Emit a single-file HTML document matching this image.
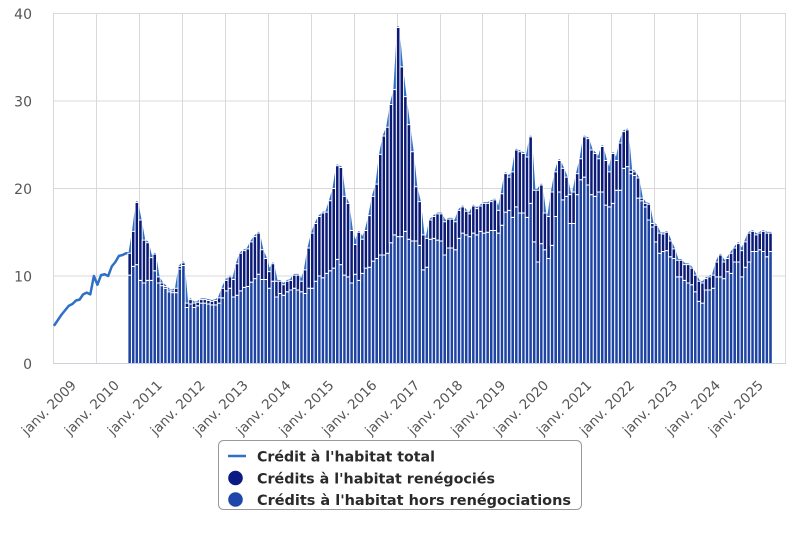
<!DOCTYPE html>
<html>
<head>
<meta charset="utf-8">
<style>
html,body{margin:0;padding:0;background:#fff;}
svg{display:block;}
.bars rect{stroke:#fff;stroke-width:1px;vector-effect:non-scaling-stroke;}
.ln{fill:none;stroke:#2f6fc6;stroke-width:2.5px;stroke-linejoin:round;stroke-linecap:round;vector-effect:non-scaling-stroke;}
.yl{font-family:"DejaVu Sans","Liberation Sans",sans-serif;font-size:14px;fill:#555;text-anchor:end;}
.xl{font-family:"DejaVu Sans","Liberation Sans",sans-serif;font-size:13.5px;fill:#555;text-anchor:end;}
.lg{font-family:"DejaVu Sans","Liberation Sans",sans-serif;font-size:14.2px;font-weight:bold;fill:#2a2a2a;}
</style>
</head>
<body>
<svg width="800" height="533" viewBox="0 0 800 533" xmlns="http://www.w3.org/2000/svg">
<rect width="800" height="533" fill="#fff"/>
<g stroke="#d9d9d9" stroke-width="1" fill="none">
<line x1="53" y1="13.5" x2="785.5" y2="13.5"/>
<line x1="53" y1="101" x2="785.5" y2="101"/>
<line x1="53" y1="188.5" x2="785.5" y2="188.5"/>
<line x1="53" y1="276" x2="785.5" y2="276"/>
<line x1="53.5" y1="13" x2="53.5" y2="364"/>
<line x1="96.5" y1="13" x2="96.5" y2="364"/>
<line x1="139.5" y1="13" x2="139.5" y2="364"/>
<line x1="182.5" y1="13" x2="182.5" y2="364"/>
<line x1="225.5" y1="13" x2="225.5" y2="364"/>
<line x1="268.5" y1="13" x2="268.5" y2="364"/>
<line x1="311.5" y1="13" x2="311.5" y2="364"/>
<line x1="354.5" y1="13" x2="354.5" y2="364"/>
<line x1="397.5" y1="13" x2="397.5" y2="364"/>
<line x1="440.5" y1="13" x2="440.5" y2="364"/>
<line x1="482.5" y1="13" x2="482.5" y2="364"/>
<line x1="525.5" y1="13" x2="525.5" y2="364"/>
<line x1="568.5" y1="13" x2="568.5" y2="364"/>
<line x1="611.5" y1="13" x2="611.5" y2="364"/>
<line x1="654.5" y1="13" x2="654.5" y2="364"/>
<line x1="697.5" y1="13" x2="697.5" y2="364"/>
<line x1="740.5" y1="13" x2="740.5" y2="364"/>
<line x1="785.5" y1="13" x2="785.5" y2="364"/>
</g>

<g transform="translate(54.5,363.5) scale(3.58,-8.75)">
<polyline class="ln" points="0,4.4 1,5.0 2,5.6 3,6.1 4,6.6 5,6.8 6,7.2 7,7.3 8,7.9 9,8.1 10,7.9 11,10.0 12,9.0 13,10.1 14,10.2 15,10.0 16,11.1 17,11.6 18,12.3 19,12.4 20,12.6 21,12.6 22,15.1 23,18.4 24,16.4 25,14.1 26,13.8 27,12.1 28,12.5 29,9.9 30,9.2 31,8.8 32,8.4 33,8.3 34,8.6 35,11.1 36,11.5 37,6.9 38,7.3 39,6.9 40,7.0 41,7.3 42,7.3 43,7.2 44,7.1 45,7.2 46,7.5 47,8.6 48,9.5 49,9.9 50,9.6 51,11.4 52,12.6 53,12.9 54,13.1 55,13.9 56,14.5 57,14.9 58,13.0 59,12.0 60,10.5 61,11.4 62,9.4 63,9.4 64,9.0 65,9.4 66,9.5 67,10.1 68,10.1 69,9.4 70,10.7 71,13.2 72,14.9 73,16.0 74,16.8 75,17.2 76,17.3 77,18.6 78,20.0 79,22.6 80,22.4 81,19.1 82,18.3 83,15.2 84,13.6 85,15.0 86,14.2 87,15.2 88,16.9 89,19.1 90,20.5 91,23.9 92,26.0 93,27.0 94,29.6 95,31.3 96,38.4 97,33.9 98,30.5 99,27.3 100,24.2 101,20.2 102,18.5 103,14.7 104,14.3 105,16.4 106,16.8 107,17.1 108,17.1 109,16.2 110,16.5 111,16.5 112,16.2 113,17.5 114,17.9 115,17.4 116,17.1 117,18.0 118,17.7 119,18.0 120,18.3 121,18.3 122,18.5 123,18.7 124,17.5 125,19.4 126,21.7 127,21.3 128,21.9 129,24.4 130,24.2 131,24.0 132,23.6 133,25.9 134,19.8 135,19.8 136,20.4 137,17.2 138,16.8 139,19.6 140,21.9 141,23.2 142,22.3 143,21.3 144,19.3 145,19.6 146,21.7 147,23.4 148,25.9 149,25.7 150,24.4 151,24.0 152,23.4 153,24.8 154,23.2 155,21.9 156,24.0 157,23.2 158,25.2 159,26.5 160,26.7 161,22.1 162,21.9 163,21.2 164,18.9 165,18.3 166,18.2 167,16.0 168,15.8 169,14.9 170,14.8 171,15.0 172,14.0 173,13.1 174,11.8 175,11.8 176,11.3 177,11.3 178,10.9 179,10.1 180,9.4 181,9.2 182,9.7 183,9.9 184,10.1 185,11.6 186,12.4 187,11.6 188,12.0 189,12.6 190,13.2 191,13.7 192,12.9 193,13.9 194,14.9 195,15.1 196,14.7 197,14.9 198,15.1 199,14.9 200,14.9"/>

<g class="bars" fill="#1d43a3">
<rect x="20.5" width="1" height="10.1"/><rect x="21.5" width="1" height="11.1"/><rect x="22.5" width="1" height="11.3"/><rect x="23.5" width="1" height="9.5"/><rect x="24.5" width="1" height="9.2"/><rect x="25.5" width="1" height="9.5"/><rect x="26.5" width="1" height="9.5"/><rect x="27.5" width="1" height="10.6"/><rect x="28.5" width="1" height="9.2"/><rect x="29.5" width="1" height="8.9"/>
<rect x="30.5" width="1" height="8.6"/><rect x="31.5" width="1" height="8.2"/><rect x="32.5" width="1" height="8.1"/><rect x="33.5" width="1" height="8.1"/><rect x="34.5" width="1" height="10.8"/><rect x="35.5" width="1" height="11.2"/><rect x="36.5" width="1" height="6.4"/><rect x="37.5" width="1" height="6.8"/><rect x="38.5" width="1" height="6.4"/><rect x="39.5" width="1" height="6.6"/>
<rect x="40.5" width="1" height="6.9"/><rect x="41.5" width="1" height="6.9"/><rect x="42.5" width="1" height="6.8"/><rect x="43.5" width="1" height="6.7"/><rect x="44.5" width="1" height="6.7"/><rect x="45.5" width="1" height="6.9"/><rect x="46.5" width="1" height="7.5"/><rect x="47.5" width="1" height="8.3"/><rect x="48.5" width="1" height="8.6"/><rect x="49.5" width="1" height="7.6"/>
<rect x="50.5" width="1" height="7.8"/><rect x="51.5" width="1" height="8.3"/><rect x="52.5" width="1" height="8.7"/><rect x="53.5" width="1" height="8.8"/><rect x="54.5" width="1" height="9.3"/><rect x="55.5" width="1" height="9.7"/><rect x="56.5" width="1" height="10.2"/><rect x="57.5" width="1" height="9.6"/><rect x="58.5" width="1" height="9.6"/><rect x="59.5" width="1" height="8.6"/>
<rect x="60.5" width="1" height="9.4"/><rect x="61.5" width="1" height="7.6"/><rect x="62.5" width="1" height="8.0"/><rect x="63.5" width="1" height="7.8"/><rect x="64.5" width="1" height="8.2"/><rect x="65.5" width="1" height="8.4"/><rect x="66.5" width="1" height="8.6"/><rect x="67.5" width="1" height="8.4"/><rect x="68.5" width="1" height="8.2"/><rect x="69.5" width="1" height="8.0"/>
<rect x="70.5" width="1" height="8.6"/><rect x="71.5" width="1" height="8.6"/><rect x="72.5" width="1" height="9.4"/><rect x="73.5" width="1" height="10.0"/><rect x="74.5" width="1" height="9.8"/><rect x="75.5" width="1" height="10.3"/><rect x="76.5" width="1" height="10.6"/><rect x="77.5" width="1" height="10.9"/><rect x="78.5" width="1" height="11.9"/><rect x="79.5" width="1" height="11.3"/>
<rect x="80.5" width="1" height="10.1"/><rect x="81.5" width="1" height="9.9"/><rect x="82.5" width="1" height="9.2"/><rect x="83.5" width="1" height="10.2"/><rect x="84.5" width="1" height="9.5"/><rect x="85.5" width="1" height="10.3"/><rect x="86.5" width="1" height="10.9"/><rect x="87.5" width="1" height="11.0"/><rect x="88.5" width="1" height="11.7"/><rect x="89.5" width="1" height="12.0"/>
<rect x="90.5" width="1" height="12.4"/><rect x="91.5" width="1" height="12.4"/><rect x="92.5" width="1" height="12.6"/><rect x="93.5" width="1" height="13.8"/><rect x="94.5" width="1" height="14.7"/><rect x="95.5" width="1" height="14.5"/><rect x="96.5" width="1" height="14.5"/><rect x="97.5" width="1" height="15.1"/><rect x="98.5" width="1" height="14.2"/><rect x="99.5" width="1" height="14.0"/>
<rect x="100.5" width="1" height="14.0"/><rect x="101.5" width="1" height="13.5"/><rect x="102.5" width="1" height="10.7"/><rect x="103.5" width="1" height="11.0"/><rect x="104.5" width="1" height="14.2"/><rect x="105.5" width="1" height="14.3"/><rect x="106.5" width="1" height="14.1"/><rect x="107.5" width="1" height="14.0"/><rect x="108.5" width="1" height="12.4"/><rect x="109.5" width="1" height="13.2"/>
<rect x="110.5" width="1" height="13.2"/><rect x="111.5" width="1" height="13.0"/><rect x="112.5" width="1" height="14.3"/><rect x="113.5" width="1" height="14.9"/><rect x="114.5" width="1" height="14.7"/><rect x="115.5" width="1" height="14.5"/><rect x="116.5" width="1" height="14.9"/><rect x="117.5" width="1" height="14.7"/><rect x="118.5" width="1" height="15.1"/><rect x="119.5" width="1" height="14.9"/>
<rect x="120.5" width="1" height="15.0"/><rect x="121.5" width="1" height="15.2"/><rect x="122.5" width="1" height="15.2"/><rect x="123.5" width="1" height="14.9"/><rect x="124.5" width="1" height="15.8"/><rect x="125.5" width="1" height="17.3"/><rect x="126.5" width="1" height="17.5"/><rect x="127.5" width="1" height="16.7"/><rect x="128.5" width="1" height="17.9"/><rect x="129.5" width="1" height="17.2"/>
<rect x="130.5" width="1" height="17.2"/><rect x="131.5" width="1" height="16.7"/><rect x="132.5" width="1" height="18.3"/><rect x="133.5" width="1" height="13.9"/><rect x="134.5" width="1" height="11.6"/><rect x="135.5" width="1" height="13.7"/><rect x="136.5" width="1" height="13.0"/><rect x="137.5" width="1" height="12.0"/><rect x="138.5" width="1" height="13.5"/><rect x="139.5" width="1" height="16.8"/>
<rect x="140.5" width="1" height="19.6"/><rect x="141.5" width="1" height="18.7"/><rect x="142.5" width="1" height="19.1"/><rect x="143.5" width="1" height="16.0"/><rect x="144.5" width="1" height="16.0"/><rect x="145.5" width="1" height="19.3"/><rect x="146.5" width="1" height="21.0"/><rect x="147.5" width="1" height="21.3"/><rect x="148.5" width="1" height="20.4"/><rect x="149.5" width="1" height="19.3"/>
<rect x="150.5" width="1" height="19.1"/><rect x="151.5" width="1" height="19.6"/><rect x="152.5" width="1" height="19.6"/><rect x="153.5" width="1" height="18.1"/><rect x="154.5" width="1" height="17.9"/><rect x="155.5" width="1" height="18.3"/><rect x="156.5" width="1" height="19.8"/><rect x="157.5" width="1" height="19.8"/><rect x="158.5" width="1" height="22.3"/><rect x="159.5" width="1" height="22.5"/>
<rect x="160.5" width="1" height="21.7"/><rect x="161.5" width="1" height="21.5"/><rect x="162.5" width="1" height="18.9"/><rect x="163.5" width="1" height="18.6"/><rect x="164.5" width="1" height="17.9"/><rect x="165.5" width="1" height="16.4"/><rect x="166.5" width="1" height="15.6"/><rect x="167.5" width="1" height="13.9"/><rect x="168.5" width="1" height="12.6"/><rect x="169.5" width="1" height="12.8"/>
<rect x="170.5" width="1" height="12.9"/><rect x="171.5" width="1" height="12.2"/><rect x="172.5" width="1" height="12.0"/><rect x="173.5" width="1" height="9.9"/><rect x="174.5" width="1" height="9.9"/><rect x="175.5" width="1" height="9.5"/><rect x="176.5" width="1" height="9.2"/><rect x="177.5" width="1" height="9.0"/><rect x="178.5" width="1" height="8.2"/><rect x="179.5" width="1" height="7.1"/>
<rect x="180.5" width="1" height="6.9"/><rect x="181.5" width="1" height="8.4"/><rect x="182.5" width="1" height="8.4"/><rect x="183.5" width="1" height="8.6"/><rect x="184.5" width="1" height="9.9"/><rect x="185.5" width="1" height="9.9"/><rect x="186.5" width="1" height="9.7"/><rect x="187.5" width="1" height="10.5"/><rect x="188.5" width="1" height="10.3"/><rect x="189.5" width="1" height="11.6"/>
<rect x="190.5" width="1" height="11.6"/><rect x="191.5" width="1" height="9.9"/><rect x="192.5" width="1" height="11.0"/><rect x="193.5" width="1" height="11.6"/><rect x="194.5" width="1" height="12.8"/><rect x="195.5" width="1" height="12.8"/><rect x="196.5" width="1" height="13.0"/><rect x="197.5" width="1" height="12.8"/><rect x="198.5" width="1" height="12.2"/><rect x="199.5" width="1" height="12.8"/>
</g>

<g class="bars" fill="#0c1b78">
<rect x="20.5" y="10.1" width="1" height="2.5"/><rect x="21.5" y="11.1" width="1" height="4.0"/><rect x="22.5" y="11.3" width="1" height="7.1"/><rect x="23.5" y="9.5" width="1" height="6.9"/><rect x="24.5" y="9.2" width="1" height="4.9"/><rect x="25.5" y="9.5" width="1" height="4.3"/><rect x="26.5" y="9.5" width="1" height="2.6"/><rect x="27.5" y="10.6" width="1" height="1.9"/><rect x="28.5" y="9.2" width="1" height="0.7"/><rect x="29.5" y="8.9" width="1" height="0.3"/>
<rect x="30.5" y="8.6" width="1" height="0.2"/><rect x="31.5" y="8.2" width="1" height="0.2"/><rect x="32.5" y="8.1" width="1" height="0.2"/><rect x="33.5" y="8.1" width="1" height="0.5"/><rect x="34.5" y="10.8" width="1" height="0.3"/><rect x="35.5" y="11.2" width="1" height="0.3"/><rect x="36.5" y="6.4" width="1" height="0.5"/><rect x="37.5" y="6.8" width="1" height="0.5"/><rect x="38.5" y="6.4" width="1" height="0.5"/><rect x="39.5" y="6.6" width="1" height="0.4"/>
<rect x="40.5" y="6.9" width="1" height="0.4"/><rect x="41.5" y="6.9" width="1" height="0.4"/><rect x="42.5" y="6.8" width="1" height="0.4"/><rect x="43.5" y="6.7" width="1" height="0.4"/><rect x="44.5" y="6.7" width="1" height="0.5"/><rect x="45.5" y="6.9" width="1" height="0.6"/><rect x="46.5" y="7.5" width="1" height="1.1"/><rect x="47.5" y="8.3" width="1" height="1.2"/><rect x="48.5" y="8.6" width="1" height="1.3"/><rect x="49.5" y="7.6" width="1" height="2.0"/>
<rect x="50.5" y="7.8" width="1" height="3.6"/><rect x="51.5" y="8.3" width="1" height="4.3"/><rect x="52.5" y="8.7" width="1" height="4.2"/><rect x="53.5" y="8.8" width="1" height="4.3"/><rect x="54.5" y="9.3" width="1" height="4.6"/><rect x="55.5" y="9.7" width="1" height="4.8"/><rect x="56.5" y="10.2" width="1" height="4.7"/><rect x="57.5" y="9.6" width="1" height="3.4"/><rect x="58.5" y="9.6" width="1" height="2.4"/><rect x="59.5" y="8.6" width="1" height="1.9"/>
<rect x="60.5" y="9.4" width="1" height="2.0"/><rect x="61.5" y="7.6" width="1" height="1.8"/><rect x="62.5" y="8.0" width="1" height="1.4"/><rect x="63.5" y="7.8" width="1" height="1.2"/><rect x="64.5" y="8.2" width="1" height="1.2"/><rect x="65.5" y="8.4" width="1" height="1.1"/><rect x="66.5" y="8.6" width="1" height="1.5"/><rect x="67.5" y="8.4" width="1" height="1.7"/><rect x="68.5" y="8.2" width="1" height="1.2"/><rect x="69.5" y="8.0" width="1" height="2.7"/>
<rect x="70.5" y="8.6" width="1" height="4.6"/><rect x="71.5" y="8.6" width="1" height="6.3"/><rect x="72.5" y="9.4" width="1" height="6.6"/><rect x="73.5" y="10.0" width="1" height="6.8"/><rect x="74.5" y="9.8" width="1" height="7.4"/><rect x="75.5" y="10.3" width="1" height="7.0"/><rect x="76.5" y="10.6" width="1" height="8.0"/><rect x="77.5" y="10.9" width="1" height="9.1"/><rect x="78.5" y="11.9" width="1" height="10.7"/><rect x="79.5" y="11.3" width="1" height="11.1"/>
<rect x="80.5" y="10.1" width="1" height="9.0"/><rect x="81.5" y="9.9" width="1" height="8.4"/><rect x="82.5" y="9.2" width="1" height="6.0"/><rect x="83.5" y="10.2" width="1" height="3.4"/><rect x="84.5" y="9.5" width="1" height="5.5"/><rect x="85.5" y="10.3" width="1" height="3.9"/><rect x="86.5" y="10.9" width="1" height="4.3"/><rect x="87.5" y="11.0" width="1" height="5.9"/><rect x="88.5" y="11.7" width="1" height="7.4"/><rect x="89.5" y="12.0" width="1" height="8.5"/>
<rect x="90.5" y="12.4" width="1" height="11.5"/><rect x="91.5" y="12.4" width="1" height="13.6"/><rect x="92.5" y="12.6" width="1" height="14.4"/><rect x="93.5" y="13.8" width="1" height="15.8"/><rect x="94.5" y="14.7" width="1" height="16.6"/><rect x="95.5" y="14.5" width="1" height="23.9"/><rect x="96.5" y="14.5" width="1" height="19.4"/><rect x="97.5" y="15.1" width="1" height="15.4"/><rect x="98.5" y="14.2" width="1" height="13.1"/><rect x="99.5" y="14.0" width="1" height="10.2"/>
<rect x="100.5" y="14.0" width="1" height="6.2"/><rect x="101.5" y="13.5" width="1" height="5.0"/><rect x="102.5" y="10.7" width="1" height="4.0"/><rect x="103.5" y="11.0" width="1" height="3.3"/><rect x="104.5" y="14.2" width="1" height="2.2"/><rect x="105.5" y="14.3" width="1" height="2.5"/><rect x="106.5" y="14.1" width="1" height="3.0"/><rect x="107.5" y="14.0" width="1" height="3.1"/><rect x="108.5" y="12.4" width="1" height="3.8"/><rect x="109.5" y="13.2" width="1" height="3.3"/>
<rect x="110.5" y="13.2" width="1" height="3.3"/><rect x="111.5" y="13.0" width="1" height="3.2"/><rect x="112.5" y="14.3" width="1" height="3.2"/><rect x="113.5" y="14.9" width="1" height="3.0"/><rect x="114.5" y="14.7" width="1" height="2.7"/><rect x="115.5" y="14.5" width="1" height="2.6"/><rect x="116.5" y="14.9" width="1" height="3.1"/><rect x="117.5" y="14.7" width="1" height="3.0"/><rect x="118.5" y="15.1" width="1" height="2.9"/><rect x="119.5" y="14.9" width="1" height="3.4"/>
<rect x="120.5" y="15.0" width="1" height="3.3"/><rect x="121.5" y="15.2" width="1" height="3.3"/><rect x="122.5" y="15.2" width="1" height="3.5"/><rect x="123.5" y="14.9" width="1" height="2.6"/><rect x="124.5" y="15.8" width="1" height="3.6"/><rect x="125.5" y="17.3" width="1" height="4.4"/><rect x="126.5" y="17.5" width="1" height="3.8"/><rect x="127.5" y="16.7" width="1" height="5.2"/><rect x="128.5" y="17.9" width="1" height="6.5"/><rect x="129.5" y="17.2" width="1" height="7.0"/>
<rect x="130.5" y="17.2" width="1" height="6.8"/><rect x="131.5" y="16.7" width="1" height="6.9"/><rect x="132.5" y="18.3" width="1" height="7.6"/><rect x="133.5" y="13.9" width="1" height="5.9"/><rect x="134.5" y="11.6" width="1" height="8.2"/><rect x="135.5" y="13.7" width="1" height="6.7"/><rect x="136.5" y="13.0" width="1" height="4.2"/><rect x="137.5" y="12.0" width="1" height="4.8"/><rect x="138.5" y="13.5" width="1" height="6.1"/><rect x="139.5" y="16.8" width="1" height="5.1"/>
<rect x="140.5" y="19.6" width="1" height="3.6"/><rect x="141.5" y="18.7" width="1" height="3.6"/><rect x="142.5" y="19.1" width="1" height="2.2"/><rect x="143.5" y="16.0" width="1" height="3.3"/><rect x="144.5" y="16.0" width="1" height="3.6"/><rect x="145.5" y="19.3" width="1" height="2.4"/><rect x="146.5" y="21.0" width="1" height="2.4"/><rect x="147.5" y="21.3" width="1" height="4.6"/><rect x="148.5" y="20.4" width="1" height="5.3"/><rect x="149.5" y="19.3" width="1" height="5.1"/>
<rect x="150.5" y="19.1" width="1" height="4.9"/><rect x="151.5" y="19.6" width="1" height="3.8"/><rect x="152.5" y="19.6" width="1" height="5.2"/><rect x="153.5" y="18.1" width="1" height="5.1"/><rect x="154.5" y="17.9" width="1" height="4.0"/><rect x="155.5" y="18.3" width="1" height="5.7"/><rect x="156.5" y="19.8" width="1" height="3.4"/><rect x="157.5" y="19.8" width="1" height="5.4"/><rect x="158.5" y="22.3" width="1" height="4.2"/><rect x="159.5" y="22.5" width="1" height="4.2"/>
<rect x="160.5" y="21.7" width="1" height="0.4"/><rect x="161.5" y="21.5" width="1" height="0.4"/><rect x="162.5" y="18.9" width="1" height="2.3"/><rect x="163.5" y="18.6" width="1" height="0.3"/><rect x="164.5" y="17.9" width="1" height="0.4"/><rect x="165.5" y="16.4" width="1" height="1.8"/><rect x="166.5" y="15.6" width="1" height="0.4"/><rect x="167.5" y="13.9" width="1" height="1.9"/><rect x="168.5" y="12.6" width="1" height="2.3"/><rect x="169.5" y="12.8" width="1" height="2.0"/>
<rect x="170.5" y="12.9" width="1" height="2.1"/><rect x="171.5" y="12.2" width="1" height="1.8"/><rect x="172.5" y="12.0" width="1" height="1.1"/><rect x="173.5" y="9.9" width="1" height="1.9"/><rect x="174.5" y="9.9" width="1" height="1.9"/><rect x="175.5" y="9.5" width="1" height="1.8"/><rect x="176.5" y="9.2" width="1" height="2.1"/><rect x="177.5" y="9.0" width="1" height="1.9"/><rect x="178.5" y="8.2" width="1" height="1.9"/><rect x="179.5" y="7.1" width="1" height="2.3"/>
<rect x="180.5" y="6.9" width="1" height="2.3"/><rect x="181.5" y="8.4" width="1" height="1.3"/><rect x="182.5" y="8.4" width="1" height="1.5"/><rect x="183.5" y="8.6" width="1" height="1.5"/><rect x="184.5" y="9.9" width="1" height="1.7"/><rect x="185.5" y="9.9" width="1" height="2.5"/><rect x="186.5" y="9.7" width="1" height="1.9"/><rect x="187.5" y="10.5" width="1" height="1.5"/><rect x="188.5" y="10.3" width="1" height="2.3"/><rect x="189.5" y="11.6" width="1" height="1.6"/>
<rect x="190.5" y="11.6" width="1" height="2.1"/><rect x="191.5" y="9.9" width="1" height="3.0"/><rect x="192.5" y="11.0" width="1" height="2.9"/><rect x="193.5" y="11.6" width="1" height="3.3"/><rect x="194.5" y="12.8" width="1" height="2.3"/><rect x="195.5" y="12.8" width="1" height="1.9"/><rect x="196.5" y="13.0" width="1" height="1.9"/><rect x="197.5" y="12.8" width="1" height="2.3"/><rect x="198.5" y="12.2" width="1" height="2.7"/><rect x="199.5" y="12.8" width="1" height="2.1"/>
</g>
</g>

<line x1="53" y1="363.5" x2="786" y2="363.5" stroke="#c9d1dd" stroke-width="1"/>

<text class="yl" x="32" y="19">40</text>
<text class="yl" x="32" y="106.5">30</text>
<text class="yl" x="32" y="194">20</text>
<text class="yl" x="32" y="281.5">10</text>
<text class="yl" x="32" y="369">0</text>

<text class="xl" transform="translate(77,386) rotate(-45)">janv. 2009</text>
<text class="xl" transform="translate(119.9,386) rotate(-45)">janv. 2010</text>
<text class="xl" transform="translate(162.9,386) rotate(-45)">janv. 2011</text>
<text class="xl" transform="translate(205.8,386) rotate(-45)">janv. 2012</text>
<text class="xl" transform="translate(248.8,386) rotate(-45)">janv. 2013</text>
<text class="xl" transform="translate(291.7,386) rotate(-45)">janv. 2014</text>
<text class="xl" transform="translate(334.6,386) rotate(-45)">janv. 2015</text>
<text class="xl" transform="translate(377.6,386) rotate(-45)">janv. 2016</text>
<text class="xl" transform="translate(420.5,386) rotate(-45)">janv. 2017</text>
<text class="xl" transform="translate(463.5,386) rotate(-45)">janv. 2018</text>
<text class="xl" transform="translate(506.4,386) rotate(-45)">janv. 2019</text>
<text class="xl" transform="translate(549.3,386) rotate(-45)">janv. 2020</text>
<text class="xl" transform="translate(592.3,386) rotate(-45)">janv. 2021</text>
<text class="xl" transform="translate(635.2,386) rotate(-45)">janv. 2022</text>
<text class="xl" transform="translate(678.2,386) rotate(-45)">janv. 2023</text>
<text class="xl" transform="translate(721.1,386) rotate(-45)">janv. 2024</text>
<text class="xl" transform="translate(764,386) rotate(-45)">janv. 2025</text>

<rect x="218.5" y="440.5" width="363" height="69" rx="5" ry="5" fill="#fff" stroke="#999" stroke-width="1"/>
<line x1="228" y1="456" x2="246" y2="456" stroke="#2f6fc6" stroke-width="2.5"/>
<text class="lg" x="257" y="461.5" textLength="178" lengthAdjust="spacingAndGlyphs">Crédit à l'habitat total</text>
<circle cx="235.5" cy="478" r="7.3" fill="#0c1b84"/>
<text class="lg" x="257" y="483.5" textLength="238" lengthAdjust="spacingAndGlyphs">Crédits à l'habitat renégociés</text>
<circle cx="235.5" cy="499.5" r="7.3" fill="#1f46ab"/>
<text class="lg" x="257" y="505" textLength="314" lengthAdjust="spacingAndGlyphs">Crédits à l'habitat hors renégociations</text>
</svg>
</body>
</html>
